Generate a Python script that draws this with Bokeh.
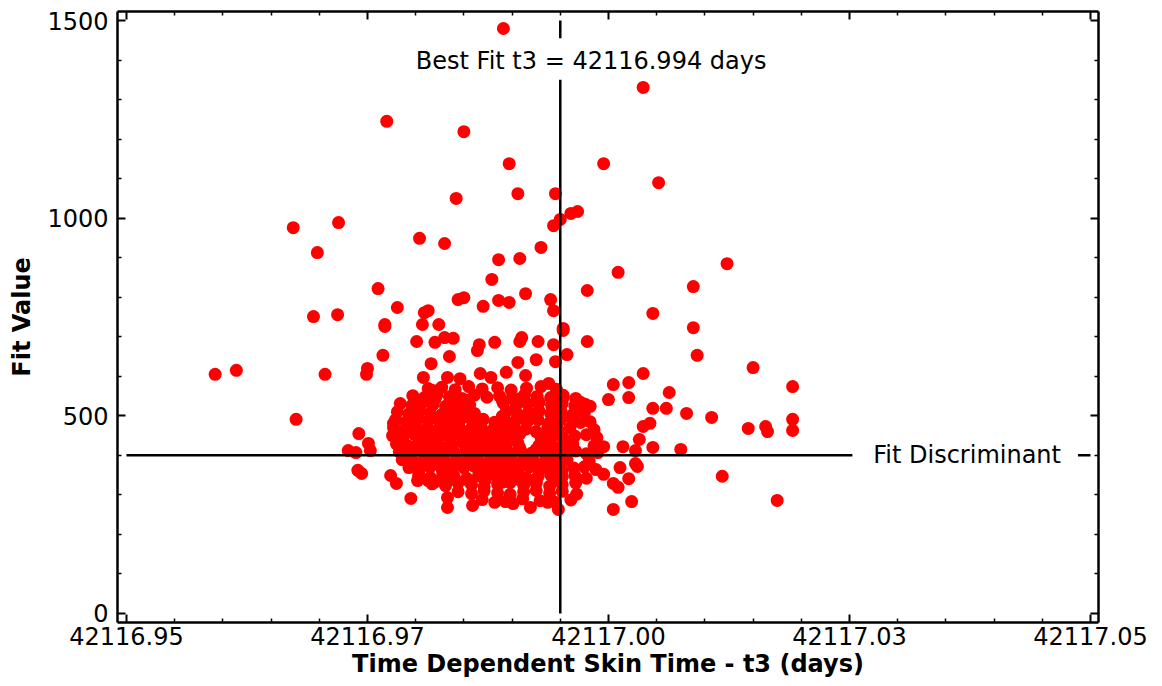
from bokeh.plotting import figure
from bokeh.models import (LinearAxis, FixedTicker, CustomJSTickFormatter, Range1d,
                          Label, ColumnDataSource)
from bokeh.embed import file_html
from bokeh.resources import INLINE

# ---------------- data ----------------
x_ticks = [42116.95, 42116.975, 42117.0, 42117.025, 42117.05]
x_tick_labels = ["42116.95", "42116.97", "42117.00", "42117.03", "42117.05"]
x_minor_ticks = [42116.955, 42116.96, 42116.965, 42116.97, 42116.98, 42116.985,
                 42116.99, 42116.995, 42117.005, 42117.01, 42117.015, 42117.02,
                 42117.03, 42117.035, 42117.04, 42117.045]
y_ticks = [0, 500, 1000, 1500]
y_minor_ticks = [100, 200, 300, 400, 600, 700, 800, 900, 1100, 1200, 1300, 1400]

best_fit_t3 = 42116.995
best_fit_text = "Best Fit t3 = 42116.994 days"
fit_discriminant = 400
x_title = "Time Dependent Skin Time - t3 (days)"
y_title = "Fit Value"

# scattered outer points
outer_t3 = [42116.9891, 42117.0036, 42116.9770, 42116.9850, 42116.9897, 42116.9995,
            42117.0052, 42116.9906, 42116.9945, 42116.9842, 42116.9961, 42116.9968,
            42116.9950, 42116.9943, 42116.9673, 42116.9720, 42116.9698, 42116.9804,
            42116.9830, 42116.9930, 42116.9886, 42116.9908, 42117.0010, 42117.0123,
            42116.9879, 42116.9761, 42117.0088, 42116.9978, 42116.9914, 42116.9844,
            42116.9850, 42116.9870, 42116.9886, 42116.9897, 42116.9940, 42116.9943,
            42117.0046, 42117.0088, 42116.9953, 42116.9694, 42116.9719, 42116.9781,
            42116.9809, 42116.9813, 42116.9807, 42116.9824, 42116.9768, 42117.0092,
            42117.0150, 42117.0191, 42117.0191, 42117.0191, 42117.0163, 42117.0165,
            42117.0145, 42117.0107, 42117.0081, 42117.0063, 42117.0060, 42117.0046,
            42117.0036, 42117.0021, 42117.0005, 42117.0000, 42117.0021, 42117.0043,
            42117.0036, 42117.0032, 42117.0046, 42117.0075, 42117.0015, 42117.0028,
            42116.9995, 42117.0030, 42117.0012, 42117.0118, 42117.0175, 42117.0024,
            42117.0005, 42116.9995, 42117.0005, 42117.0021, 42117.0010, 42117.0028]
outer_fit = [1480, 1331, 1245, 1219, 1138, 1138,
             1090, 1062, 1062, 1050, 1012, 1017,
             997, 981, 976, 989, 913, 949,
             936, 926, 895, 898, 863, 885,
             845, 822, 827, 817, 809, 794,
             799, 777, 792, 787, 794, 766,
             759, 723, 721, 751, 756, 774,
             761, 766, 731, 731, 731, 653,
             622, 574, 491, 463, 473, 460,
             468, 496, 506, 559, 519, 519,
             607, 584, 579, 541, 546, 481,
             473, 440, 420, 415, 422, 412,
             422, 372, 369, 347, 286, 283,
             263, 352, 329, 341, 319, 379]

# left wing
left_t3 = [42116.9592, 42116.9614, 42116.9706, 42116.9750, 42116.9749, 42116.9766,
           42116.9768, 42116.9676, 42116.9741, 42116.9730, 42116.9738, 42116.9751,
           42116.9753, 42116.9740, 42116.9744, 42116.9774, 42116.9780, 42116.9777,
           42116.9780, 42116.9787, 42116.9792, 42116.9795]
left_fit = [605, 615, 605, 620, 605, 653,
            726, 491, 455, 412, 407, 430,
            412, 362, 354, 349, 329, 481,
            455, 420, 387, 291]

# band just above the main cluster
upper_t3 = [42116.9801, 42116.9820, 42116.9830, 42116.9839, 42116.9866, 42116.9864,
            42116.9882, 42116.9910, 42116.9908, 42116.9927, 42116.9943, 42116.9953,
            42116.9978, 42116.9835, 42116.9816, 42116.9906, 42116.9925, 42116.9945,
            42116.9957, 42116.9808, 42116.9833, 42116.9846, 42116.9867, 42116.9878,
            42116.9894, 42116.9914, 42116.9938, 42116.9818, 42116.9953, 42116.9971,
            42116.9981, 42116.9971, 42116.9963]
upper_fit = [688, 686, 698, 696, 680, 665,
             686, 698, 688, 688, 680, 716,
             688, 650, 632, 635, 642, 637,
             655, 597, 597, 594, 607, 597,
             610, 602, 582, 564, 546, 534,
             524, 483, 501]

# lower tail
lower_t3 = [42116.9833, 42116.9833, 42116.9859, 42116.9882, 42116.9901, 42116.9919,
            42116.9937, 42116.9948, 42116.9813, 42116.9833]
lower_fit = [293, 268, 273, 281, 278, 268, 281, 263, 336, 336]

# dense core of the cluster
core_t3 = [
    42116.9813, 42116.9827, 42116.9841, 42116.9855, 42116.9869, 42116.9885, 42116.9899,
    42116.9915, 42116.9930, 42116.9946,
    42116.9797, 42116.9809, 42116.9822, 42116.9835, 42116.9848, 42116.9861, 42116.9874,
    42116.9887, 42116.9900, 42116.9913, 42116.9926, 42116.9940, 42116.9953, 42116.9966,
    42116.9784, 42116.9796, 42116.9807, 42116.9818, 42116.9831, 42116.9843, 42116.9856,
    42116.9891, 42116.9904, 42116.9916, 42116.9928, 42116.9941, 42116.9952, 42116.9965,
    42116.9976,
    42116.9781, 42116.9793, 42116.9804, 42116.9815, 42116.9827, 42116.9838, 42116.9850,
    42116.9861, 42116.9894, 42116.9906, 42116.9917, 42116.9928, 42116.9940, 42116.9951,
    42116.9963, 42116.9975,
    42116.9779, 42116.9790, 42116.9802, 42116.9813, 42116.9825, 42116.9836, 42116.9848,
    42116.9859, 42116.9870, 42116.9882, 42116.9893, 42116.9905, 42116.9916, 42116.9927,
    42116.9939, 42116.9950, 42116.9962, 42116.9981,
    42116.9777, 42116.9788, 42116.9800, 42116.9811, 42116.9823, 42116.9834, 42116.9845,
    42116.9857, 42116.9868, 42116.9880, 42116.9891, 42116.9902, 42116.9914, 42116.9937,
    42116.9948, 42116.9960, 42116.9985,
    42116.9776, 42116.9787, 42116.9799, 42116.9810, 42116.9822, 42116.9833, 42116.9844,
    42116.9856, 42116.9867, 42116.9879, 42116.9890, 42116.9901, 42116.9930, 42116.9942,
    42116.9953, 42116.9965, 42116.9977, 42116.9988,
    42116.9780, 42116.9792, 42116.9803, 42116.9814, 42116.9826, 42116.9837, 42116.9849,
    42116.9860, 42116.9871, 42116.9883, 42116.9894, 42116.9906, 42116.9928, 42116.9940,
    42116.9951, 42116.9963, 42116.9985,
    42116.9783, 42116.9795, 42116.9806, 42116.9817, 42116.9829, 42116.9840, 42116.9852,
    42116.9863, 42116.9874, 42116.9886, 42116.9897, 42116.9909, 42116.9920, 42116.9932,
    42116.9943, 42116.9954, 42116.9966, 42116.9977, 42116.9989,
    42116.9786, 42116.9798, 42116.9809, 42116.9821, 42116.9832, 42116.9843, 42116.9855,
    42116.9866, 42116.9878, 42116.9889, 42116.9900, 42116.9912, 42116.9923, 42116.9935,
    42116.9946, 42116.9957, 42116.9980,
    42116.9793, 42116.9804, 42116.9815, 42116.9827, 42116.9838, 42116.9850, 42116.9861,
    42116.9872, 42116.9884, 42116.9895, 42116.9907, 42116.9918, 42116.9929, 42116.9941,
    42116.9952, 42116.9964, 42116.9975, 42116.9987,
    42116.9803, 42116.9815, 42116.9828, 42116.9840, 42116.9853, 42116.9865, 42116.9878,
    42116.9890, 42116.9902, 42116.9915, 42116.9927, 42116.9940, 42116.9952, 42116.9965,
    42116.9977,
    42116.9817, 42116.9831, 42116.9844, 42116.9858, 42116.9871, 42116.9885, 42116.9898,
    42116.9912, 42116.9925, 42116.9939, 42116.9952, 42116.9966,
    42116.9844, 42116.9858, 42116.9871, 42116.9885, 42116.9898, 42116.9912, 42116.9925,
    42116.9939, 42116.9952, 42116.9967,
    42116.9869, 42116.9893, 42116.9911, 42116.9929, 42116.9945, 42116.9961,
]
core_fit = [
    569, 572, 566, 574, 568, 571, 565, 570, 574, 567,
    551, 546, 553, 548, 544, 552, 547, 550, 545, 553, 549, 546, 552, 544,
    531, 526, 533, 528, 524, 531, 527, 532, 525, 530, 534, 527, 531, 525, 529,
    510, 505, 512, 507, 503, 509, 513, 506, 511, 504, 508, 512, 506, 510, 503, 509,
    490, 485, 492, 487, 483, 489, 494, 486, 491, 484, 488, 493, 486, 490, 483, 489, 492, 485,
    470, 465, 472, 467, 463, 469, 473, 466, 471, 464, 468, 472, 466, 470, 463, 469, 465,
    450, 445, 452, 447, 443, 449, 453, 446, 451, 444, 448, 452, 446, 450, 443, 449, 452, 445,
    429, 424, 431, 426, 422, 428, 432, 425, 430, 423, 427, 431, 425, 429, 422, 428, 424,
    409, 404, 411, 406, 402, 408, 412, 405, 410, 403, 407, 411, 405, 409, 402, 408, 411, 404, 407,
    389, 384, 391, 386, 382, 388, 392, 385, 390, 383, 387, 391, 385, 389, 382, 388, 384,
    369, 364, 371, 366, 362, 368, 372, 365, 370, 363, 367, 371, 365, 369, 362, 368, 371, 364,
    349, 344, 351, 346, 342, 348, 352, 345, 350, 343, 347, 351, 345, 349, 342,
    328, 323, 330, 325, 321, 327, 331, 324, 329, 322, 326, 330,
    308, 303, 310, 305, 301, 307, 311, 304, 309, 302,
    288, 283, 290, 285, 281, 287,
]

# extra points filling the centre of the cluster
centre_t3 = [
    42116.9802, 42116.9820, 42116.9837, 42116.9855, 42116.9890, 42116.9908, 42116.9925, 42116.9943,
    42116.9802, 42116.9820, 42116.9837, 42116.9855, 42116.9890, 42116.9908, 42116.9925, 42116.9943,
    42116.9802, 42116.9820, 42116.9837, 42116.9855, 42116.9872, 42116.9890, 42116.9908, 42116.9925, 42116.9943,
    42116.9802, 42116.9820, 42116.9837, 42116.9855, 42116.9872, 42116.9890, 42116.9908, 42116.9925, 42116.9943,
    42116.9802, 42116.9820, 42116.9837, 42116.9855, 42116.9872, 42116.9890, 42116.9908, 42116.9925, 42116.9943,
    42116.9802, 42116.9820, 42116.9837, 42116.9855, 42116.9872, 42116.9890, 42116.9908, 42116.9925, 42116.9943,
]
centre_fit = [
    539, 542, 536, 540, 538, 543, 535, 541,
    498, 495, 501, 497, 499, 494, 500, 496,
    458, 461, 455, 459, 457, 462, 454, 460, 456,
    417, 414, 420, 416, 418, 413, 419, 415, 421,
    377, 380, 374, 378, 376, 381, 373, 379, 375,
    336, 333, 339, 335, 337, 332, 338, 334, 340,
]

all_t3 = outer_t3 + left_t3 + upper_t3 + lower_t3 + core_t3 + centre_t3
all_fit = outer_fit + left_fit + upper_fit + lower_fit + core_fit + centre_fit
source = ColumnDataSource(data=dict(t3=all_t3, fit=all_fit))

# ---------------- figure ----------------
FONT = "DejaVu Sans"
p = figure(width=1162, height=686, output_backend="svg", toolbar_location=None,
           x_range=Range1d(42116.94907, 42117.05083), y_range=Range1d(-23, 1523),
           x_axis_location=None, y_axis_location=None,
           min_border_left=117, min_border_right=64, min_border_top=11,
           min_border_bottom=64)
p.outline_line_color = None
p.background_fill_color = "white"
p.border_fill_color = "white"
p.grid.visible = False


def make_axis(ticks, minor, formatter=None, show_labels=True, title=None):
    ax = LinearAxis(ticker=FixedTicker(ticks=ticks, minor_ticks=minor))
    if formatter is not None:
        ax.formatter = formatter
    ax.axis_line_width = 2.5
    ax.axis_line_color = "black"
    ax.major_tick_in = 8
    ax.major_tick_out = 0
    ax.minor_tick_in = 4
    ax.minor_tick_out = 0
    ax.major_tick_line_width = 2
    ax.minor_tick_line_width = 1.5
    ax.major_tick_line_color = "black"
    ax.minor_tick_line_color = "black"
    ax.major_label_text_font = FONT
    ax.major_label_text_font_size = "24px"
    ax.major_label_text_color = "black"
    if not show_labels:
        ax.formatter = CustomJSTickFormatter(code="return ''")
        ax.major_label_text_font_size = "1px"
        ax.major_label_standoff = 0
    if title is not None:
        ax.axis_label = title
        ax.axis_label_text_font = FONT
        ax.axis_label_text_font_style = "bold"
        ax.axis_label_text_font_size = "24px"
        ax.axis_label_text_color = "black"
    return ax


xfmt = CustomJSTickFormatter(args=dict(labels=x_tick_labels), code="return labels[index]")
bottom = make_axis(x_ticks, x_minor_ticks, formatter=xfmt, title=x_title)
bottom.major_label_standoff = 4
bottom.axis_label_standoff = 2
left = make_axis(y_ticks, y_minor_ticks, title=y_title)
left.major_label_standoff = 9
left.axis_label_standoff = 8
top = make_axis(x_ticks, x_minor_ticks, show_labels=False)
right = make_axis(y_ticks, y_minor_ticks, show_labels=False)

p.add_layout(bottom, "below")
p.add_layout(left, "left")
p.add_layout(top, "above")
p.add_layout(right, "right")

# points
p.scatter("t3", "fit", source=source, size=13, fill_color="#ff0000",
          line_color=None)

# reference lines (drawn over points)
p.segment(x0=[best_fit_t3, best_fit_t3], y0=[0, 1455],
          x1=[best_fit_t3, best_fit_t3], y1=[1350, 1500],
          line_color="black", line_width=2.5)
p.segment(x0=[42116.95, 42117.0487], y0=[fit_discriminant, fit_discriminant],
          x1=[42117.0253, 42117.05], y1=[fit_discriminant, fit_discriminant],
          line_color="black", line_width=2.5)

p.add_layout(Label(x=42116.9982, y=1399, text=best_fit_text, text_font=FONT,
                   text_font_size="24px", text_color="black",
                   text_align="center", text_baseline="middle"))
p.add_layout(Label(x=42117.0372, y=fit_discriminant, text="Fit Discriminant",
                   text_font=FONT, text_font_size="24px", text_color="black",
                   text_align="center", text_baseline="middle"))

open("out.html", "w").write(file_html(p, INLINE))
